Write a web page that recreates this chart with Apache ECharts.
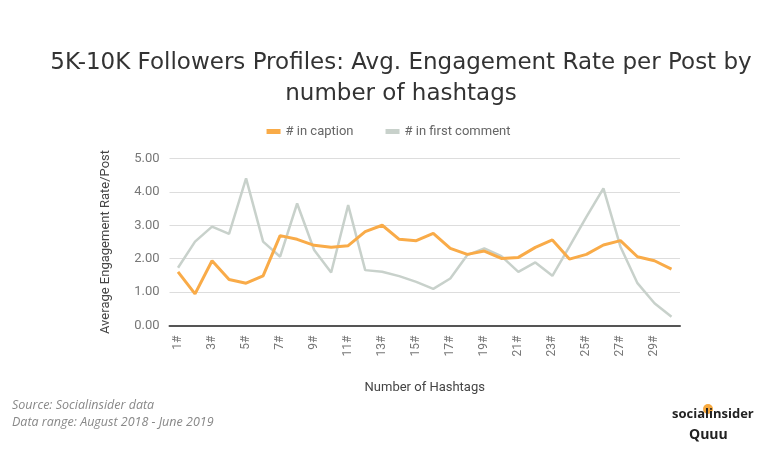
<!DOCTYPE html>
<html><head><meta charset="utf-8">
<script src="https://cdn.jsdelivr.net/npm/echarts@6/dist/echarts.min.js"></script>
<style>html,body{margin:0;padding:0;background:#fff}#c{width:777px;height:473px}</style>
</head><body><div id="c"></div>
<script>
const categories = ["1#","2#","3#","4#","5#","6#","7#","8#","9#","10#","11#","12#","13#","14#","15#","16#","17#","18#","19#","20#","21#","22#","23#","24#","25#","26#","27#","28#","29#","30#"];
const inCaption = [1.61,0.95,1.94,1.38,1.27,1.49,2.69,2.58,2.40,2.34,2.39,2.81,3.00,2.58,2.54,2.76,2.31,2.13,2.23,2.01,2.04,2.34,2.56,1.99,2.13,2.41,2.54,2.06,1.94,1.69];
const inFirstComment = [1.73,2.51,2.96,2.74,4.40,2.51,2.06,3.65,2.26,1.59,3.60,1.66,1.61,1.48,1.31,1.10,1.41,2.11,2.31,2.08,1.61,1.89,1.49,2.36,3.25,4.10,2.36,1.27,0.67,0.27];
const yTicks = [0,1,2,3,4,5];

const chart = echarts.init(document.getElementById('c'));
chart.setOption({
  backgroundColor:'#fff',
  animation:false,
  title:{
    text:'5K-10K Followers Profiles: Avg. Engagement Rate per Post by\nnumber of hashtags',
    left:396, textAlign:'center', top:43,
    textStyle:{fontFamily:'DejaVu Sans', fontWeight:'normal', fontSize:23, color:'#333', lineHeight:31}
  },
  legend:{
    top:120, left:'center', itemWidth:14, itemHeight:5, itemGap:32,
    icon:'rect',
    textStyle:{fontFamily:'Roboto', fontSize:13, color:'#666'},
    data:['# in caption','# in first comment']
  },
  grid:{left:169.5, right:97, top:158.3, bottom:147.3},
  xAxis:{
    type:'category', data:categories, boundaryGap:true,
    name:'Number of Hashtags', nameLocation:'middle', nameGap:56,
    nameTextStyle:{fontFamily:'Roboto', fontSize:13, color:'#444'},
    axisLine:{lineStyle:{color:'#555', width:2}},
    axisTick:{show:false},
    axisLabel:{rotate:90, interval:1, fontFamily:'Roboto', fontSize:12, color:'#777', margin:10},
  },
  yAxis:{
    type:'value', min:yTicks[0], max:yTicks[yTicks.length-1], interval:1,
    name:'Average Engagement Rate/Post', nameLocation:'middle', nameGap:57,
    nameTextStyle:{fontFamily:'Roboto', fontSize:13, color:'#444'},
    axisLine:{show:false}, axisTick:{show:false},
    axisLabel:{formatter:v=>v.toFixed(2), fontFamily:'Roboto', fontSize:13, color:'#777', margin:10},
    splitLine:{lineStyle:{color:'#ddd', width:1}}
  },
  series:[
    {name:'# in caption', type:'line', data:inCaption, symbol:'none', z:3,
     lineStyle:{color:'#f9ab48', width:3}, itemStyle:{color:'#f9ab48'}},
    {name:'# in first comment', type:'line', data:inFirstComment, symbol:'none', z:2,
     lineStyle:{color:'#c8d1cb', width:2.5}, itemStyle:{color:'#c8d1cb'}}
  ],
  graphic:[
    {type:'text', left:12, top:399, style:{text:'Source: Socialinsider data', font:'italic 12.5px "Open Sans"', fill:'#888'}},
    {type:'text', left:12, top:416, style:{text:'Data range: August 2018 - June 2019', font:'italic 12.5px "Open Sans"', fill:'#888'}},
    {type:'circle', shape:{cx:708, cy:409, r:5}, style:{fill:'#f7a93e'}},
    {type:'text', left:672, top:408, style:{text:'socialinsider', font:'bold 13px "Open Sans"', fill:'#222'}},
    {type:'text', left:689, top:428, style:{text:'Quuu', font:'bold 14px "Open Sans"', fill:'#222'}}
  ]
});
</script></body></html>
